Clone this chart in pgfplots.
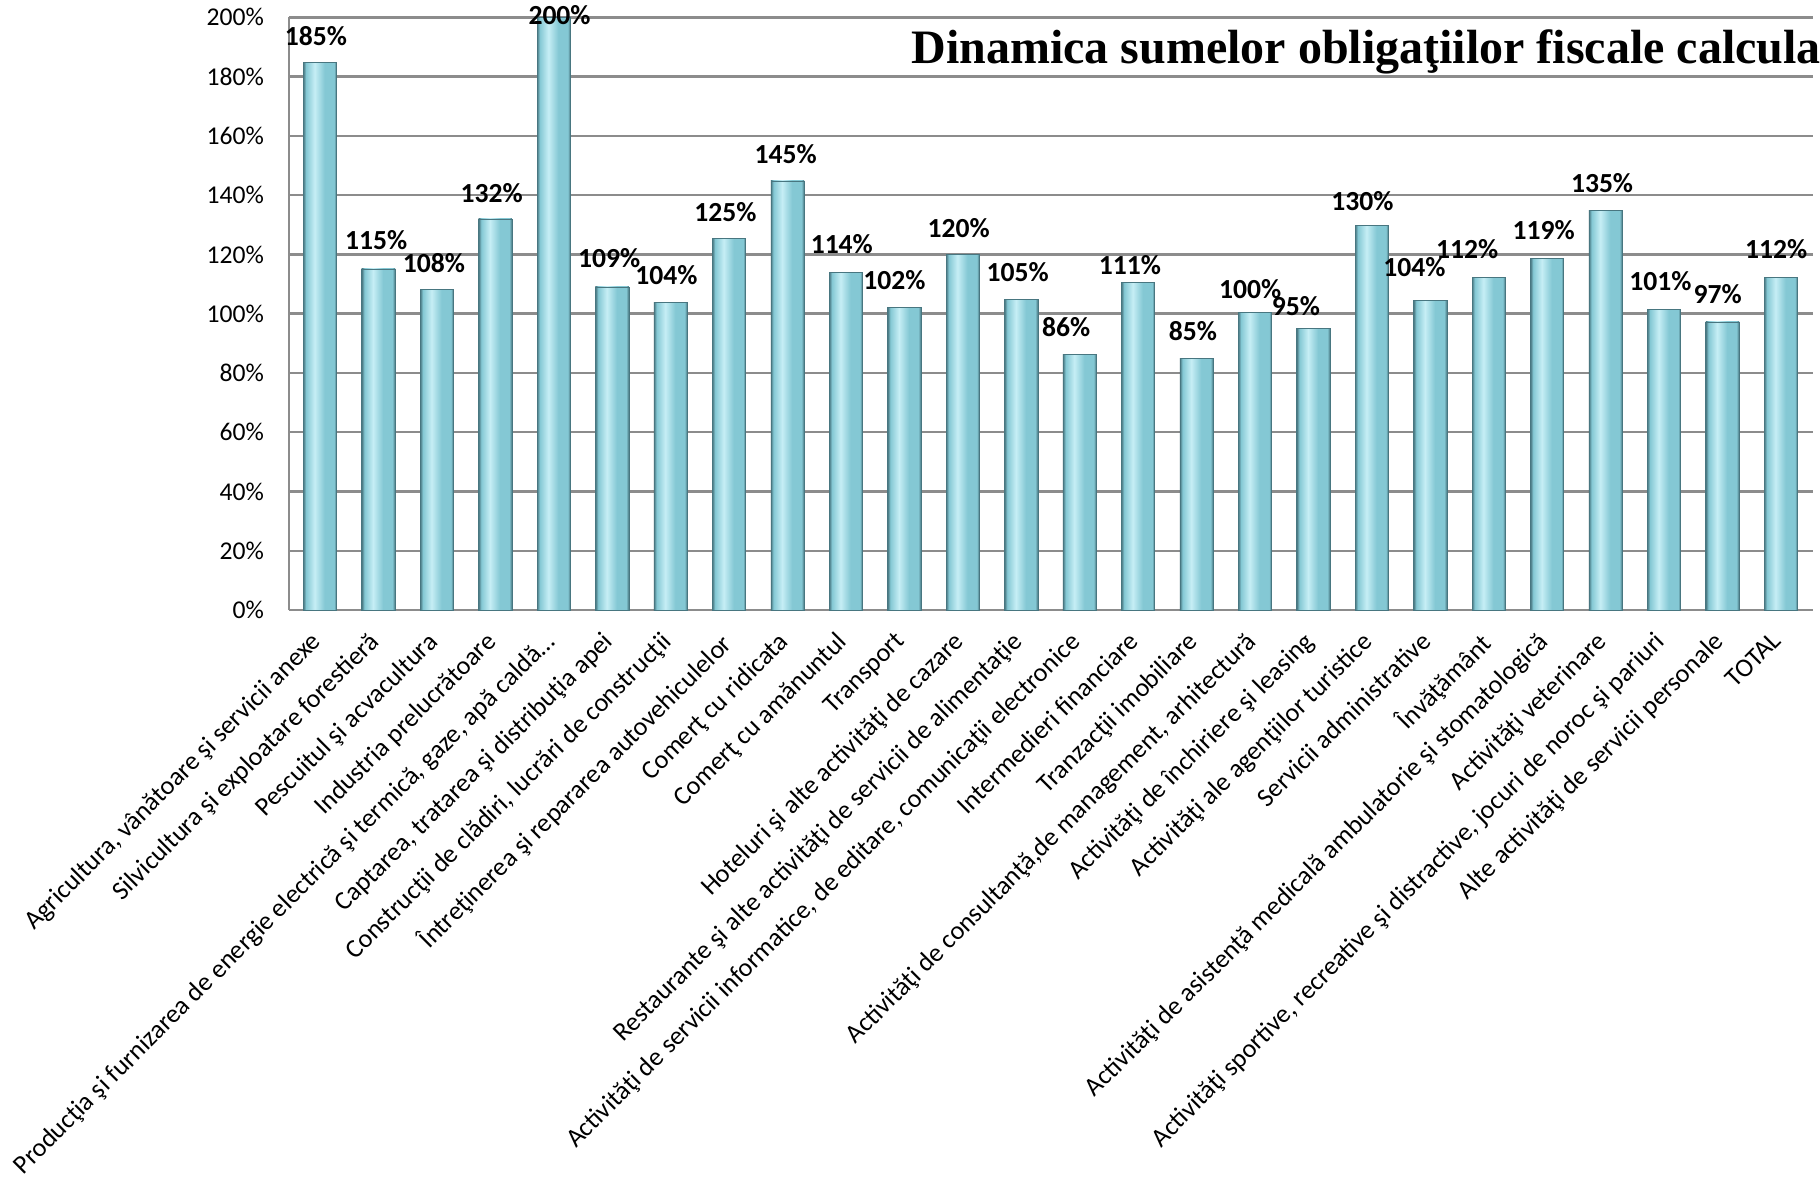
\documentclass[border=0pt]{standalone}
\usepackage{fontspec}
\setmainfont{Carlito}
\newfontfamily\titlefont{Liberation Serif}
\usepackage{pgfplots}
\pgfplotsset{compat=1.18}

\definecolor{bardark}{RGB}{72,118,128}
\definecolor{barmid}{RGB}{132,200,212}
\definecolor{barlight}{RGB}{198,238,245}
\definecolor{gridgray}{RGB}{140,140,140}
\pgfdeclarehorizontalshading{barcyl}{100bp}{color(0bp)=(bardark); color(25bp)=(bardark); color(29bp)=(barmid); color(42bp)=(barlight); color(57bp)=(barmid); color(71bp)=(barmid); color(75bp)=(bardark); color(100bp)=(bardark)}
\pgfplotsset{cylbar/.style={ybar, bar width=0.57, draw=bardark, line width=0.3pt, shading=barcyl}}

\begin{document}
\begin{tikzpicture}
\begin{axis}[
  scale only axis,
  width=762pt, height=296.35pt,
  xmin=-0.53, xmax=25.55,
  ymin=0, ymax=200,
  clip=false,
  axis x line*=bottom, axis y line*=left,
  axis line style={gridgray, line width=1.2pt, -},
  ymajorgrids, grid style={gridgray, line width=1.2pt},
  major tick length=0pt,
  ytick={0,20,...,200},
  yticklabels={0\%,20\%,40\%,60\%,80\%,100\%,120\%,140\%,160\%,180\%,200\%},
  yticklabel style={font=\fontsize{12.8}{15}\selectfont, xshift=-9pt},
  xtick={0,...,25},
  xticklabels={
    {Agricultura, vânătoare şi servicii anexe},
    {Silvicultura şi exploatare forestieră},
    {Pescuitul şi acvacultura},
    {Industria prelucrătoare},
    {Producţia şi furnizarea de energie electrică şi termică, gaze, apă caldă…},
    {Captarea, tratarea şi distribuţia apei},
    {Construcţii de clădiri, lucrări de construcţii},
    {Întreţinerea şi repararea autovehiculelor},
    {Comerţ cu ridicata},
    {Comerţ cu amănuntul},
    {Transport},
    {Hoteluri şi alte activităţi de cazare},
    {Restaurante şi alte activităţi de servicii de alimentaţie},
    {Activităţi de servicii informatice, de editare, comunicaţii electronice},
    {Intermedieri financiare},
    {Tranzacţii imobiliare},
    {Activităţi de consultanţă,de management, arhitectură},
    {Activităţi de închiriere şi leasing},
    {Activităţi ale agenţiilor turistice},
    {Servicii administrative},
    {Învăţământ},
    {Activităţi de asistenţă medicală ambulatorie şi stomatologică},
    {Activităţi veterinare},
    {Activităţi sportive, recreative şi distractive, jocuri de noroc şi pariuri},
    {Alte activităţi de servicii personale},
    {TOTAL}},
  xticklabel style={font=\fontsize{13.1}{15}\selectfont, rotate=45, anchor=north east, inner sep=0pt, yshift=-3.2pt, xshift=-10.8pt},
]
% one plot per bar so that each bar gets its own cylinder shading
\addplot[cylbar] coordinates {(0,184.8)};
\addplot[cylbar] coordinates {(1,115.1)};
\addplot[cylbar] coordinates {(2,108.1)};
\addplot[cylbar] coordinates {(3,132)};
\addplot[cylbar] coordinates {(4,200)};
\addplot[cylbar] coordinates {(5,109)};
\addplot[cylbar] coordinates {(6,103.7)};
\addplot[cylbar] coordinates {(7,125.3)};
\addplot[cylbar] coordinates {(8,144.8)};
\addplot[cylbar] coordinates {(9,113.9)};
\addplot[cylbar] coordinates {(10,102)};
\addplot[cylbar] coordinates {(11,120)};
\addplot[cylbar] coordinates {(12,104.9)};
\addplot[cylbar] coordinates {(13,86.2)};
\addplot[cylbar] coordinates {(14,110.6)};
\addplot[cylbar] coordinates {(15,84.8)};
\addplot[cylbar] coordinates {(16,100.3)};
\addplot[cylbar] coordinates {(17,95)};
\addplot[cylbar] coordinates {(18,129.8)};
\addplot[cylbar] coordinates {(19,104.4)};
\addplot[cylbar] coordinates {(20,112.3)};
\addplot[cylbar] coordinates {(21,118.7)};
\addplot[cylbar] coordinates {(22,134.8)};
\addplot[cylbar] coordinates {(23,101.4)};
\addplot[cylbar] coordinates {(24,97.2)};
\addplot[cylbar] coordinates {(25,112.3)};
% data labels, placed where they stand in the chart
\addplot[draw=none, mark=none, nodes near coords, point meta=explicit symbolic,
  every node near coord/.append style={anchor=center, inner sep=0pt,
    font=\bfseries\fontsize{13.8}{16}\selectfont}]
  coordinates {
  (-0.07,193.6)[185\%] (0.96,124.8)[115\%] (1.95,116.9)[108\%] (2.94,140.7)[132\%]
  (4.10,200.7)[200\%] (4.95,118.7)[109\%] (5.93,113)[104\%] (6.94,134.3)[125\%]
  (7.97,153.8)[145\%] (8.93,123.4)[114\%] (9.83,111.3)[102\%] (10.93,129)[120\%]
  (11.94,114.1)[105\%] (12.77,95.6)[86\%] (13.86,116.4)[111\%] (14.94,94.1)[85\%]
  (15.92,108.3)[100\%] (16.70,102.5)[95\%] (17.84,138)[130\%] (18.73,115.8)[104\%]
  (19.63,121.8)[112\%] (20.94,128.2)[119\%] (21.94,144.1)[135\%] (22.94,111)[101\%]
  (23.92,106.6)[97\%] (24.92,121.7)[112\%]};
\end{axis}
\node[anchor=base west, inner sep=0pt, font=\titlefont\bfseries\fontsize{24}{28}\selectfont]
  at (311pt,273pt) {Dinamica sumelor obligaţiilor fiscale calcula};
\pgfresetboundingbox
\useasboundingbox (-144.5pt,-284.5pt) rectangle (765.5pt,305pt);
\end{tikzpicture}
\end{document}
